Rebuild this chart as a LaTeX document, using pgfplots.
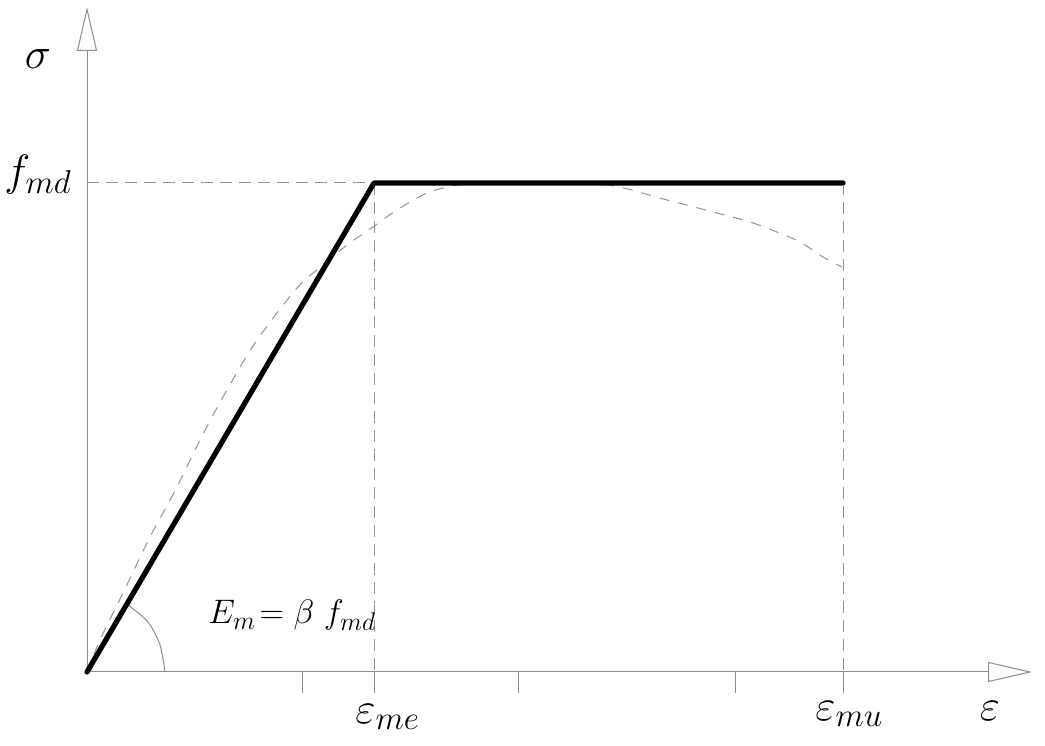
\documentclass[border=0pt]{standalone}
\usepackage{fix-cm}
\usepackage{pgfplots}
\pgfplotsset{compat=1.18}
\usetikzlibrary{arrows.meta}
\DeclareMathSizes{22}{22}{16.5}{12}
\DeclareMathSizes{17}{17}{12.8}{9}
\definecolor{axisgray}{gray}{0.55}
\definecolor{dashgray}{gray}{0.58}
\begin{document}
\begin{tikzpicture}
\begin{axis}[x=0.5pt,y=0.5pt,xmin=-87,xmax=958,ymin=-73,ymax=672,hide axis,clip=false,scale only axis]
\path (axis cs:-87,-73) rectangle (axis cs:958,672);
% guide lines
\addplot[dashgray, line width=0.5pt, dash pattern=on 6pt off 3.5pt] coordinates {(0,489) (287,489)};
\addplot[dashgray, line width=0.5pt, dash pattern=on 6pt off 3.5pt] coordinates {(287,489) (287,0)};
\addplot[dashgray, line width=0.5pt, dash pattern=on 6pt off 3.5pt] coordinates {(756,489) (756,0)};
% ticks
\addplot[axisgray, line width=0.5pt] coordinates {(215,0) (215,-21)};
\addplot[axisgray, line width=0.5pt] coordinates {(287,0) (287,-21)};
\addplot[axisgray, line width=0.5pt] coordinates {(431,0) (431,-21)};
\addplot[axisgray, line width=0.5pt] coordinates {(648,0) (648,-21)};
\addplot[axisgray, line width=0.5pt] coordinates {(756,0) (756,-21)};
% axes
\draw[axisgray, line width=0.5pt, -{Triangle[open,length=22pt,width=10pt,fill=white]}] (axis cs:0,0) -- (axis cs:0,665);
\draw[axisgray, line width=0.5pt, -{Triangle[open,length=22pt,width=10pt,fill=white]}] (axis cs:0,0) -- (axis cs:945,0);
% experimental curve
\addplot[dashgray, line width=0.5pt, dash pattern=on 5pt off 4.5pt, smooth] coordinates {
(0,0) (13,32) (36,79) (63,135) (90,185) (113,232) (136,275) (168,329) (210,384) (236,407) (260,427) (286,445) (310,462) (340,479) (370,487) (403,489) (513,488) (580,472) (630,459) (663,450) (690,440) (713,430) (736,415) (755,405)};
% angle arc
\addplot[axisgray, line width=0.5pt, smooth] coordinates {(41,67) (61,50) (73,27) (78,0)};
% bilinear model
\addplot[black, line width=2.6pt, line cap=round, line join=round] coordinates {(0,0) (287,489) (756,489)};
% labels
\node[font=\fontsize{22}{26}\selectfont, anchor=center] at (axis cs:-49,613) {$\sigma$};
\node[font=\fontsize{22}{26}\selectfont, anchor=base east, inner sep=0pt] at (axis cs:-15,486) {$f_{md}$};
\node[font=\fontsize{22}{26}\selectfont, anchor=base west, inner sep=0pt] at (axis cs:268,-51) {$\varepsilon_{me}$};
\node[font=\fontsize{22}{26}\selectfont, anchor=base west, inner sep=0pt] at (axis cs:728,-48) {$\varepsilon_{mu}$};
\node[font=\fontsize{22}{26}\selectfont, anchor=base, inner sep=0pt] at (axis cs:903,-48) {$\varepsilon$};
\node[font=\fontsize{17}{20}\selectfont, anchor=base west, inner sep=0pt] at (axis cs:121,48) {$E_m\!= \beta\; f_{md}$};
\end{axis}
\end{tikzpicture}
\end{document}
